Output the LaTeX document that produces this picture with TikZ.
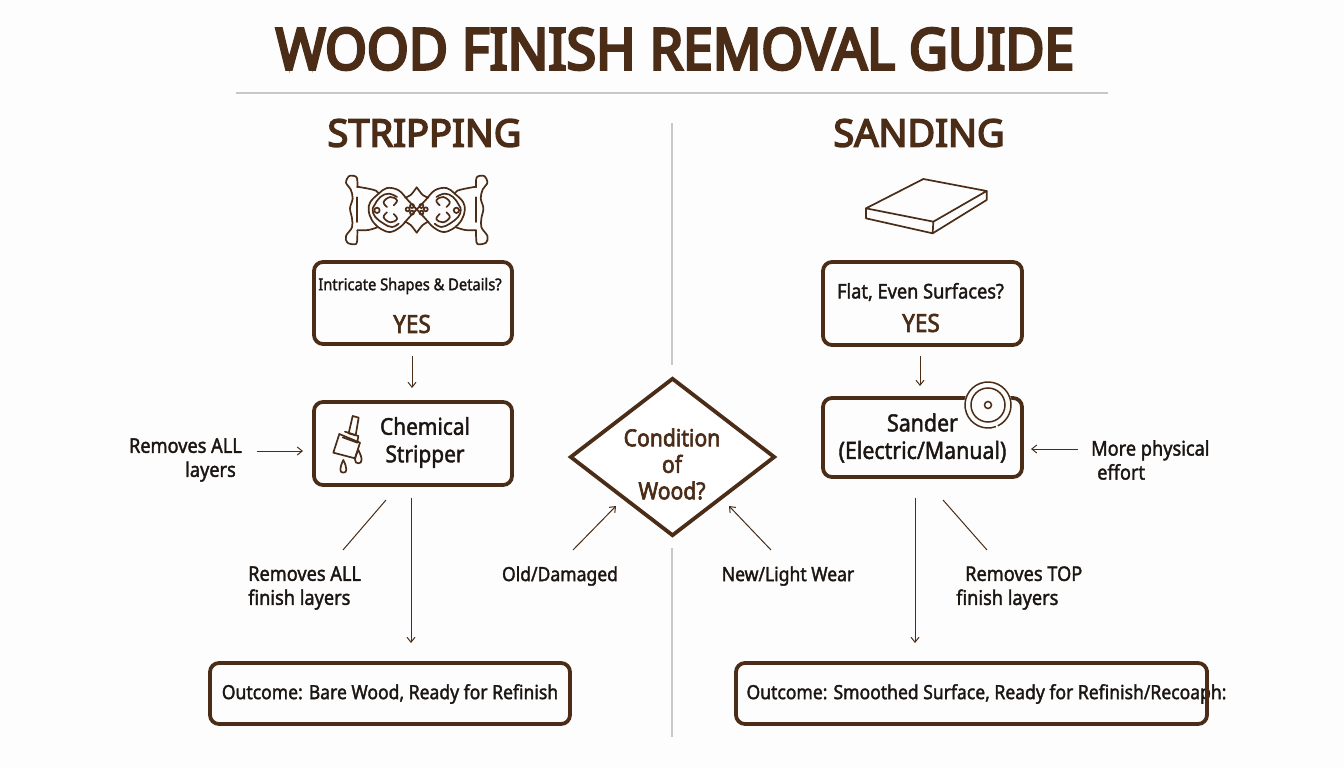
\documentclass[tikz,border=0pt]{standalone}
\usepackage{fontspec}
\setmainfont{Noto Sans}
\newfontfamily\lab[FakeStretch=0.9,FakeBold=1.8]{Noto Sans}
\newfontfamily\labb[FakeStretch=0.9,FakeBold=2.6]{Noto Sans}
\newfontfamily\hd[FakeStretch=1.0,FakeBold=4]{Noto Sans}
\newfontfamily\ttl[FakeStretch=0.94,FakeBold=5]{Noto Sans}
\usetikzlibrary{arrows.meta,shapes.geometric}
\definecolor{brn}{HTML}{4A2C17}
\definecolor{ink}{HTML}{1C1613}
\definecolor{rule}{HTML}{C8C8C4}
\definecolor{bg}{HTML}{FDFDFD}
\tikzset{
 box/.style={draw=brn,line width=3.8pt,rounded corners=9pt,fill=none,inner sep=0pt},
 txt/.style={text=ink,font=\lab\fontsize{19.5}{24}\selectfont,inner sep=0pt},
 side/.style={text=ink,font=\lab\fontsize{20.2}{24}\selectfont,inner sep=0pt},
 big/.style={text=ink,font=\lab\fontsize{23.2}{27.5}\selectfont,inner sep=0pt,align=center},
 yes/.style={text=brn,font=\labb\fontsize{25}{27}\selectfont,inner sep=0pt},
 head/.style={text=brn,font=\hd\fontsize{38}{40}\selectfont,inner sep=0pt},
 conn/.style={draw=brn,line width=1pt},
 arr/.style={conn,-{Straight Barb[length=5pt,width=8pt]}},
 icon/.style={draw=brn,line width=1.7pt,line join=round,line cap=round},
 divider/.style={draw=rule,line width=1.8pt},
}
\newcommand{\halfornament}{%
 \draw[icon] plot[smooth,tension=0.55] coordinates {(52,52)(50,22)(28,18)(18,38)(32,58)(38,85)(30,115)(36,145)(36,172)(18,198)(22,218)(48,222)(52,198)(52,181)};
 \draw[icon] plot[smooth,tension=0.55] coordinates {(52,50)(85,56)(108,62)(116,71)};
 \draw[icon] plot[smooth,tension=0.55] coordinates {(52,181)(85,180)(112,172)};
 \draw[icon] (52,82)--(52,156);
 \draw[icon] plot[smooth,tension=0.6] coordinates {(230,118)(205,92)(176,61)(141,54)(116,71)(91,96)(86,121)(96,151)(121,176)(151,186)(181,171)(205,145)(230,118)};
 \draw[icon] plot[smooth,tension=0.6] coordinates {(230,52)(212,75)(195,83)};
 \draw[icon] plot[smooth,tension=0.6] coordinates {(230,188)(212,165)(195,155)};
 \draw[icon] plot[smooth,tension=0.7] coordinates {(171,81)(146,71)(121,81)(103,106)(98,121)(106,141)(131,161)(156,171)(176,161)};
 \draw[icon] plot[smooth,tension=0.7] coordinates {(161,106)(171,91)(151,81)(131,96)(141,111)};
 \draw[icon] plot[smooth,tension=0.7] coordinates {(161,132)(171,147)(151,157)(131,142)(141,127)};
 \draw[icon] (111,121) circle[radius=8];
 \draw[icon] (203,118) circle[radius=6];
 \draw[icon] (216,108) circle[radius=6];
 \draw[icon] (216,128) circle[radius=6];
}
\begin{document}
\begin{tikzpicture}[x=1pt,y=-1pt]
\useasboundingbox (0,0) rectangle (1344,768);
\fill[bg] (0,0) rectangle (1344,768);

% title and rules
\node[text=brn,font=\ttl\fontsize{57}{60}\selectfont,inner sep=0pt] (title) at (675,49) {WOOD FINISH REMOVAL GUIDE};
\coordinate (ruleL) at (236,93);
\coordinate (ruleR) at (1108,93);
\draw[divider] (ruleL) -- (ruleR);
\coordinate (divA) at (672,123);
\coordinate (divB) at (672,365);
\coordinate (divC) at (672,548);
\coordinate (divD) at (672,737);
\draw[divider] (divA) -- (divB);
\draw[divider] (divC) -- (divD);

\node[head] (hstrip) at (424.5,133) {STRIPPING};
\node[head] (hsand) at (919,133) {SANDING};

% ornament
\begin{scope}[shift={(340,170)},scale=1/3]
 \halfornament
\end{scope}
\begin{scope}[shift={(493.4,170)},xscale=-1/3,yscale=1/3]
 \halfornament
\end{scope}

% slab
\begin{scope}[shift={(810,165)},scale=1/3]
 \draw[icon] (168,130)--(340,42)--(530,78)--(370,170)--cycle;
 \draw[icon] (168,130)--(168,160)--(368,205)--(370,170);
 \draw[icon] (368,205)--(530,105)--(530,78);
\end{scope}

% boxes
\node[box,minimum width=198pt,minimum height=82pt] (q1) at (413,303) {};
\node[box,minimum width=198pt,minimum height=83pt] (chem) at (413,443.5) {};
\node[box,minimum width=199pt,minimum height=83pt] (q2) at (922.5,303.5) {};
\node[box,minimum width=199pt,minimum height=79pt] (sander) at (922.5,437.5) {};
\node[box,minimum width=360pt,minimum height=61pt] (out1) at (390,693.5) {};
\node[box,minimum width=471pt,minimum height=61pt] (out2) at (971.5,693.5) {};
\node[draw=brn,line width=3.8pt,fill=white,diamond,aspect=1.3,minimum width=205pt,minimum height=158pt,inner sep=0pt] (dia) at (672.5,457) {};

% box texts
\node[txt,font=\lab\fontsize{16.3}{20}\selectfont] (q1t) at (410,286) {Intricate Shapes \& Details?};
\node[yes] (q1y) at (412,324) {YES};
\node[big] (chemt) at (425,442.5) {Chemical\\Stripper};
\node[txt,font=\lab\fontsize{20.2}{24}\selectfont] (q2t) at (920.5,292) {Flat, Even Surfaces?};
\node[yes] (q2y) at (921,323) {YES};
\node[big,font=\lab\fontsize{23.7}{27.5}\selectfont] (sandt) at (922.5,438) {Sander\\(Electric/Manual)};
\node[txt] (out1t) at (390,694) {Outcome: Bare Wood, Ready for Refinish};
\node[txt] (out2t) at (986.5,694) {Outcome: Smoothed Surface, Ready for Refinish/Recoaph:};
\draw[draw=brn,line width=3.8pt] (out2.north east)++(-1.9,9) -- ++(0,43);
\node[text=brn,font=\labb\fontsize{23.5}{26.5}\selectfont,inner sep=0pt,align=center] (diat) at (672,464) {Condition\\of\\Wood?};

% side labels
\node[side,align=right,anchor=east] (l1) at (242,460) {Removes ALL\\layers\hspace*{6pt}};
\node[side,align=left,anchor=west] (l2) at (248,588) {Removes ALL\\finish layers};
\node[txt] (l3) at (560,576) {Old/Damaged};
\node[txt] (l4) at (788,576) {New/Light Wear};
\node[side,align=left,anchor=west] (l5) at (956,588) {\hspace*{9pt}Removes TOP\\finish layers};
\node[side,align=left,anchor=west] (l6) at (1091,460) {More physical\\\hspace*{6pt}effort};

% connectors
\coordinate (a1s) at (412,356);
\coordinate (a1e) at (412,388);
\draw[arr] (a1s) -- (a1e);
\coordinate (a2s) at (920,356);
\coordinate (a2e) at (920,386);
\draw[arr] (a2s) -- (a2e);
\coordinate (a3s) at (257,451);
\coordinate (a3e) at (303,451);
\draw[arr] (a3s) -- (a3e);
\coordinate (a4s) at (1078,449);
\coordinate (a4e) at (1031,449);
\draw[arr] (a4s) -- (a4e);
\coordinate (a5s) at (411,498);
\coordinate (a5e) at (411,643);
\draw[arr] (a5s) -- (a5e);
\coordinate (a6s) at (915,498);
\coordinate (a6e) at (915,643);
\draw[arr] (a6s) -- (a6e);
\coordinate (d1s) at (386,500);
\coordinate (d1e) at (343,550);
\draw[conn] (d1s) -- (d1e);
\coordinate (d2s) at (943,500);
\coordinate (d2e) at (987,550);
\draw[conn] (d2s) -- (d2e);
\coordinate (a7s) at (573,550);
\coordinate (a7e) at (616,506);
\draw[arr] (a7s) -- (a7e);
\coordinate (a8s) at (771,550);
\coordinate (a8e) at (729,506);
\draw[arr] (a8s) -- (a8e);

% brush icon
\begin{scope}[shift={(300,160)},scale=1/3]
 \draw[icon] (158,768)--(176,773)--(167,826)--(146,820)--cycle;
 \draw[icon] (135,815)--(175,828)--(172,848)--(128,832);
 \draw[icon] (118,822)--(180,848)--(165,895)--(100,878)--cycle;
 \draw[icon] (130,900) .. controls (118,925) and (118,938) .. (130,938) .. controls (142,938) and (142,925) .. (130,900);
 \draw[icon] (175,870) .. controls (162,895) and (162,910) .. (175,910) .. controls (188,910) and (188,895) .. (175,870);
\end{scope}

% sander disc
\node[circle,fill=bg,inner sep=0pt,minimum size=48pt] (disc) at (988,405) {};
\draw[brn,line width=1.5pt] (disc.center) ++(70:23) arc[start angle=70,end angle=425,radius=23];
\draw[brn,line width=1.5pt] (disc.center) circle[radius=17];
\draw[brn,line width=1.5pt] (disc.center) circle[radius=3.5];
\end{tikzpicture}
\end{document}
